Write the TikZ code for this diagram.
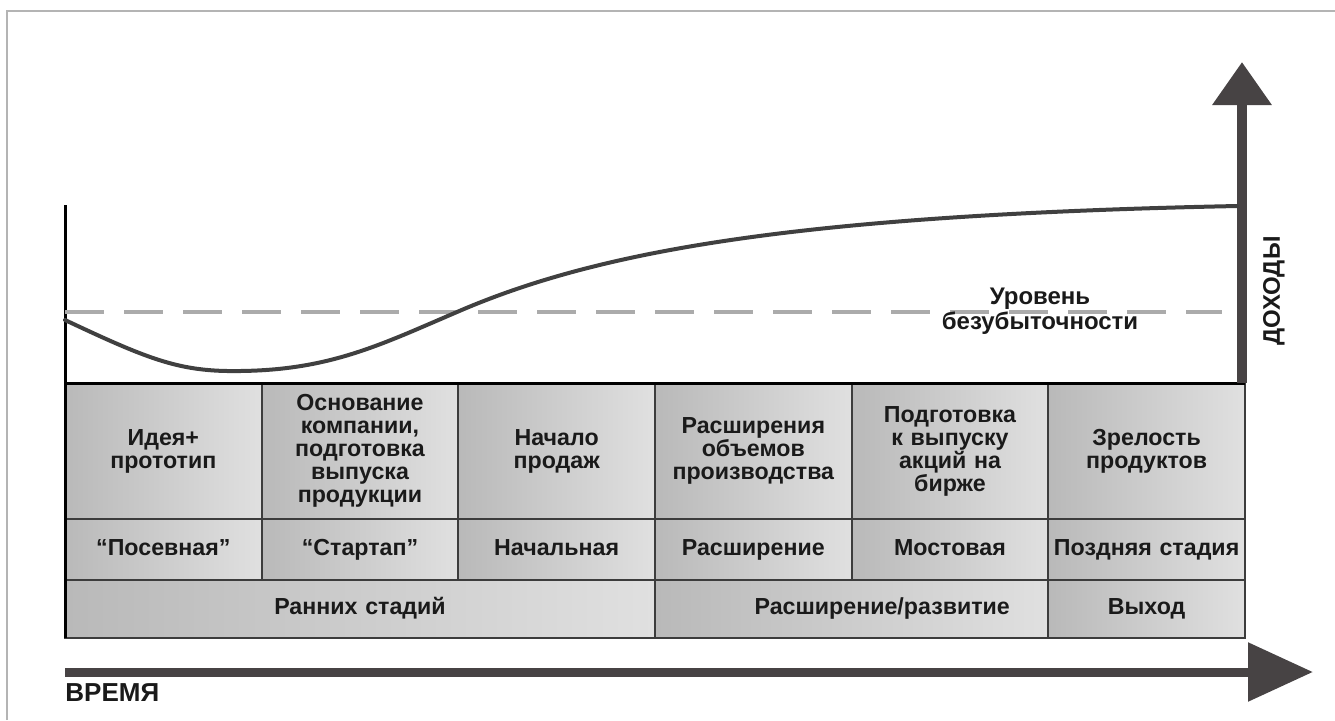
\documentclass[tikz,border=0pt]{standalone}
\usepackage{fontspec}
\setmainfont{Liberation Sans}
\usepackage{xcolor}
\definecolor{AxisGrey}{HTML}{474344}
\definecolor{CurveGrey}{HTML}{404040}
\definecolor{DashGrey}{HTML}{ABABAB}
\definecolor{CellDark}{HTML}{B9B9B9}
\definecolor{CellLight}{HTML}{E0E0E0}
\definecolor{InkBlack}{HTML}{1A1A1A}
\definecolor{FrameGrey}{HTML}{B4B4B4}
\usepackage{tikz}
\usetikzlibrary{arrows.meta, positioning}
\tikzstyle{cell} = [rectangle, draw=InkBlack!85, line width=1pt, left color=CellDark, right color=CellLight, text=InkBlack, minimum width=98.33pt, text width=97pt, align=center, inner sep=0pt, outer sep=0pt, font=\bfseries\fontsize{11.6}{11.5}\selectfont]
\tikzstyle{stagebox} = [cell, minimum height=68pt]
\tikzstyle{phasebox} = [cell, minimum height=30.5pt, text height=8.4pt, text depth=2.5pt]
\tikzstyle{roundbox} = [cell, minimum height=29pt, text height=8.4pt, text depth=2.5pt]
\tikzstyle{axis} = [AxisGrey, line width=5pt, -{Triangle[width=28.5pt, length=21.5pt]}]
\tikzstyle{timeaxis} = [AxisGrey, line width=4.5pt, -{Triangle[width=28.5pt, length=32.5pt]}]
\tikzstyle{curve} = [CurveGrey, line width=2pt, line cap=round]
\tikzstyle{breakeven} = [DashGrey, line width=2pt, dash pattern=on 19.5pt off 10pt]

\begin{document}
\begin{tikzpicture}[x=0.5pt, y=-0.5pt]
        \useasboundingbox (0,0) rectangle (1335,720);
        % Outer frame
        \draw [FrameGrey, line width=1pt] (7,720) -- (7,11) -- (1335,11);

        % Stages
        \node [stagebox, anchor=north west] (idea) at (65,383) {Идея+\\прототип};
        \node [stagebox, right=0pt of idea] (founding) {Основание\\компании,\\подготовка\\выпуска\\продукции};
        \node [stagebox, right=0pt of founding] (sales) {Начало\\продаж};
        \node [stagebox, right=0pt of sales] (scaling) {Расширения\\объемов\\производства};
        \node [stagebox, right=0pt of scaling] (ipoprep) {Подготовка\\к выпуску\\акций на\\бирже};
        \node [stagebox, right=0pt of ipoprep] (maturity) {Зрелость\\продуктов};

        % Financing rounds
        \node [phasebox, below=0pt of idea] (seed) {“Посевная”};
        \node [phasebox, below=0pt of founding] (startup) {“Стартап”};
        \node [phasebox, below=0pt of sales] (initial) {Начальная};
        \node [phasebox, below=0pt of scaling] (expansion) {Расширение};
        \node [phasebox, below=0pt of ipoprep] (bridge) {Мостовая};
        \node [phasebox, below=0pt of maturity] (late) {Поздняя стадия};

        % Groups
        \node [roundbox, minimum width=295pt, below=0pt of seed.south west, anchor=north west] (early) {Ранних стадий};
        \node [roundbox, minimum width=196.67pt, right=0pt of early] (growth) {Расширение/развитие};
        \node [roundbox, right=0pt of growth] (exit) {Выход};

        % Axes
        \coordinate (yTop) at (65,205);
        \coordinate (yBottom) at (65,638);
        \coordinate (revBase) at (1242,383);
        \coordinate (revTip) at (1242,62);
        \coordinate (timeStart) at (65,672);
        \coordinate (timeTip) at (1313,672);
        \draw [black, line width=1.5pt] (yTop) -- (yBottom);
        \draw [black, line width=1.5pt] (idea.north west) -- (maturity.north east);
        \draw [axis] (revBase) -- (revTip);
        \draw [timeaxis] (timeStart) -- (timeTip);

        % Break-even level and revenue curve
        \coordinate (evenStart) at (65,312);
        \coordinate (evenEnd) at (1222,312);
        \draw [breakeven] (evenStart) -- (evenEnd);
        \coordinate (curveStart) at (65,320);
        \coordinate (curveEnd) at (1237,206);
        \draw [curve] (curveStart) .. controls (150,360) and (180,372) .. (240,371)
            .. controls (330,370) and (380,345) .. (457,312)
            .. controls (600,250) and (800,215) .. (curveEnd);

        % Labels
        \node [text=InkBlack, align=center, font=\bfseries\fontsize{12}{12.5}\selectfont] (evenLabel) at (1040,311) {Уровень\\безубыточности};
        \node [text=InkBlack, rotate=90, font=\bfseries\fontsize{12}{12}\selectfont] (revLabel) at (1274,291) {ДОХОДЫ};
        \node [text=InkBlack, anchor=west, inner sep=0pt, font=\bfseries\fontsize{13}{13}\selectfont] (timeLabel) at (65,693) {ВРЕМЯ};
    \end{tikzpicture}
\end{document}
